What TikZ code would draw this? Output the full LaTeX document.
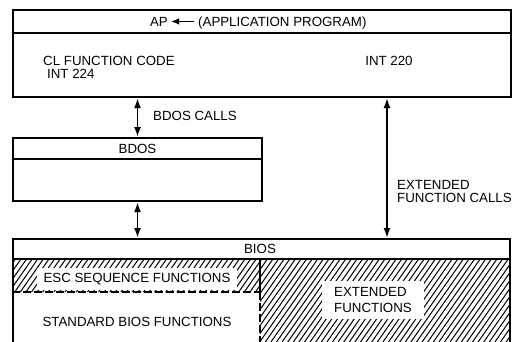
\documentclass[tikz,border=0pt]{standalone}
\usepackage{fontspec}
\setmainfont{Liberation Sans}
\usetikzlibrary{arrows.meta}
\begin{document}
\begin{tikzpicture}[x=1pt,y=-1pt,
  box/.style={draw, line width=2pt, inner sep=0pt, anchor=north west},
  divider/.style={line width=1.6pt},
  dbl/.style={line width=1.8pt, {Latex[length=10pt,width=7pt]}-{Latex[length=10pt,width=7pt]}},
  lbl/.style={font=\fontsize{13.3}{13}\selectfont, inner sep=0pt},
  hatchline/.style={line width=1pt},
  wlbl/.style={lbl, fill=white, inner xsep=7pt, inner ysep=5pt},
  dashline/.style={line width=2.2pt, dash pattern=on 8pt off 3pt}
]
\useasboundingbox (0,0) rectangle (512,341);
\clip (0,0) rectangle (512,341);

% hatching
\begin{scope}
  \clip (12,259) rectangle (260,292) (260,259) rectangle (509,345);
  \foreach \k in {-16,...,95} \draw[hatchline] (\k*5.6,345) -- ++(70,-100);
\end{scope}

% boxes
\node[box, minimum width=498pt, minimum height=87pt] (ap) at (12,9) {};
\draw[divider] (ap.west |- 0,33) -- (ap.east |- 0,33);
\node[box, minimum width=249pt, minimum height=63pt] (bdos) at (12,137) {};
\draw[divider] (bdos.west |- 0,159) -- (bdos.east |- 0,159);
\node[box, minimum width=497pt, minimum height=125pt] (bios) at (12,238) {};
\draw[divider] (bios.west |- 0,259) -- (bios.east |- 0,259);

% dashed boundaries
\draw[dashline] (bios.west |- 0,292) -- (260,292);
\draw[divider] (260,259) -- (260,292);
\draw[dashline] (260,292) -- (260,345);

% AP texts
\node[lbl, anchor=base east] (apl) at (168,26) {AP};
\node[lbl, anchor=base west] (appl) at (198,26) {(APPLICATION PROGRAM)};
\draw[line width=1.4pt, -{Latex[length=8pt,width=6.5pt]}] ([xshift=-4pt]appl.west |- apl.east) -- ([xshift=3pt]apl.east);
\node[lbl, anchor=base west] (clcode) at (43,65) {CL FUNCTION CODE};
\node[lbl, anchor=base west] (int224) at (47,78) {INT 224};
\node[lbl, anchor=base] (int220) at (389,65) {INT 220};
\coordinate (extx) at (387,0);

% BDOS
\node[lbl, anchor=base] (bdostxt) at (bdos.north |- 0,153) {BDOS};
\node[lbl, anchor=base west] (bdoscalls) at (153,120) {BDOS CALLS};

% BIOS
\node[lbl, anchor=base] (biostxt) at (260,253) {BIOS};
\node[wlbl] (esc) at (137,279) {ESC SEQUENCE FUNCTIONS};
\node[lbl, anchor=base] (std) at (137,326) {STANDARD BIOS FUNCTIONS};
\node[lbl, fill=white, inner xsep=12pt, inner ysep=6pt, align=left, font=\fontsize{13.3}{16}\selectfont] (extf) at (373,300) {EXTENDED\\FUNCTIONS};

% extended function calls label
\node[lbl, align=left, font=\fontsize{13.3}{13}\selectfont, anchor=west] (efc) at (397,191.5) {EXTENDED\\FUNCTION CALLS};

% connectors
\draw[dbl] (bdos.north |- ap.south) -- (bdos.north);
\draw[dbl] (bdos.south) -- (bdos.south |- bios.north);
\draw[dbl] (extx |- ap.south) -- (extx |- bios.north);
\end{tikzpicture}
\end{document}
